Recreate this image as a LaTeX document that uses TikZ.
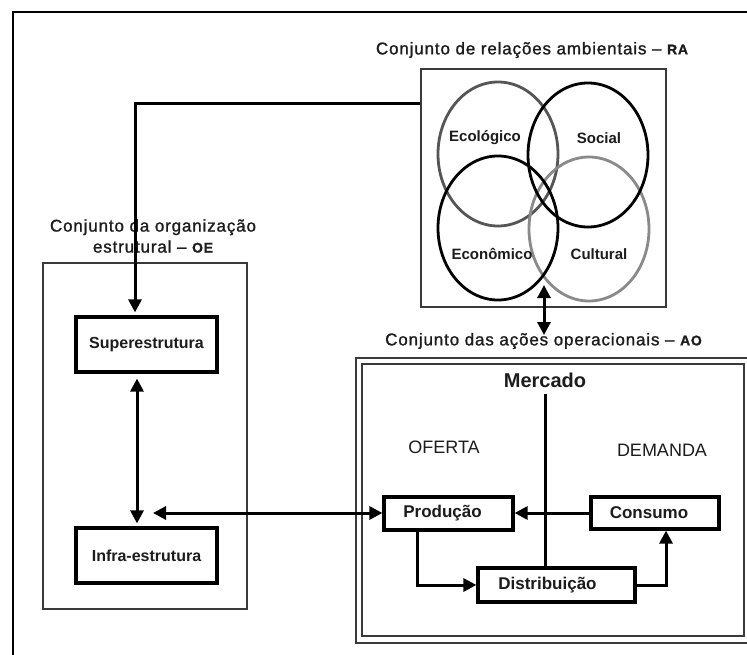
\documentclass[tikz,border=0pt]{standalone}
\usepackage{fontspec}
\setmainfont{Liberation Sans}
\newfontfamily\tfont[LetterSpace=5,FakeBold=1.2]{Liberation Sans}
\usetikzlibrary{arrows.meta,calc,shapes.geometric}
\definecolor{ink}{HTML}{1C1C1C}
\definecolor{grayA}{HTML}{555555}
\definecolor{grayB}{HTML}{8A8A8A}
\definecolor{grayD}{HTML}{3A3A3A}
\newcommand{\abbrv}[1]{{\fontsize{14}{15}\selectfont\bfseries #1}}
\begin{document}
\begin{tikzpicture}[x=1pt,y=-1pt,
  >={Triangle[length=13pt,width=13pt]},
  container/.style={draw=grayD, line width=1.5pt, inner sep=0pt, rectangle},
  nodebox/.style={draw=black, line width=3.2pt, inner sep=0pt, rectangle, text=ink,
                  font=\fontsize{16}{18}\selectfont\bfseries},
  aobox/.style={nodebox, font=\fontsize{17}{19}\selectfont\bfseries},
  circ/.style={ellipse, draw=black, line width=2.8pt, minimum width=120pt,
               minimum height=144pt, inner sep=0pt},
  clabel/.style={text=ink, inner sep=0pt, font=\fontsize{15}{17}\selectfont\bfseries},
  title/.style={text=ink, inner sep=0pt, font=\tfont\fontsize{17}{21}\selectfont},
  plain/.style={text=ink, inner sep=0pt, font=\fontsize{18}{20}\selectfont},
  conn/.style={draw=black, line width=3pt}]
\useasboundingbox (0,0) rectangle (747,655);
\clip (0,0) rectangle (747,655);
\fill[white] (0,0) rectangle (747,655);

% outer frame
\coordinate (fbl) at (13,665);
\coordinate (ftl) at (13,12);
\coordinate (ftr) at (760,12);
\draw[line width=2.8pt] (fbl) -- (ftl) -- (ftr);

% ---------- RA ----------
\node[title] (ratitle) at (532,50) {Conjunto de relações ambientais – \abbrv{RA}};
\node[container, minimum width=245pt, minimum height=238pt] (ra) at (543.5,188) {};
\node[circ, draw=grayA] (eco) at (498,154) {};
\node[circ, draw=grayB] (cul) at (589,229) {};
\node[circ] (soc) at (588,155) {};
\node[circ] (econ) at (498,228) {};
\node[clabel] (ecot) at (485,138) {Ecológico};
\node[clabel] (soct) at (599,138) {Social};
\node[clabel] (econt) at (492,254) {Econômico};
\node[clabel] (cult) at (599,254) {Cultural};

% ---------- OE ----------
\node[title, align=center] (oetitle) at (153,236) {Conjunto da organização\\estrutural – \abbrv{OE}};
\node[container, minimum width=204pt, minimum height=346pt] (oe) at (145,436) {};
\node[nodebox, minimum width=141pt, minimum height=55pt] (sup) at (146.5,344.5) {Superestrutura};
\node[nodebox, minimum width=141pt, minimum height=55pt] (inf) at (146.5,555.5) {Infra-estrutura};

% ---------- AO ----------
\node[title] (aotitle) at (543.5,341) {Conjunto das ações operacionais – \abbrv{AO}};
\node[container, minimum width=404pt, minimum height=285pt] (aoout) at (558,500.5) {};
\node[container, minimum width=382pt, minimum height=272pt] (aoin) at (553,500) {};
\node[text=ink, inner sep=0pt, font=\fontsize{20}{22}\selectfont\bfseries] (merc) at (545,380) {Mercado};
\node[plain] (oferta) at (444,447) {OFERTA};
\node[plain] (demanda) at (662,450) {DEMANDA};
\node[aobox, minimum width=129pt, minimum height=33pt] (prod) at (448.5,513.5) {Produção\hspace*{12pt}};
\node[aobox, minimum width=128pt, minimum height=32pt] (cons) at (655,513) {Consumo\hspace*{12pt}};
\node[aobox, minimum width=157pt, minimum height=34pt] (dist) at (556.5,585) {Distribuição\hspace*{18pt}};

% ---------- connectors ----------
\coordinate (y104) at (0,104);
\coordinate (bend1) at (135,104);
\draw[conn,->,shorten >=3pt] (ra.west |- y104) -- (bend1) -- (bend1 |- sup.north);
\draw[conn,<->,shorten <=5pt,shorten >=3pt] ([xshift=-9.5pt]sup.south) -- ([xshift=-9.5pt]inf.north);
\coordinate (oeend) at (153,513);
\draw[conn,<->] (oeend) -- (prod.west |- oeend);
\draw[conn,->] (cons.west) -- (prod.east |- cons.west);
\draw[conn,->] ([xshift=-31.5pt]prod.south) |- (dist.west);
\draw[conn,->] (dist.east) -| ([xshift=11pt]cons.south);
\coordinate (mtop) at (545,394);
\draw[conn] (mtop) -- (mtop |- dist.north);
\coordinate (raup) at (544,285);
\coordinate (aodn) at (544,335);
\draw[conn,<->] (aodn) -- (raup);
\end{tikzpicture}
\end{document}
